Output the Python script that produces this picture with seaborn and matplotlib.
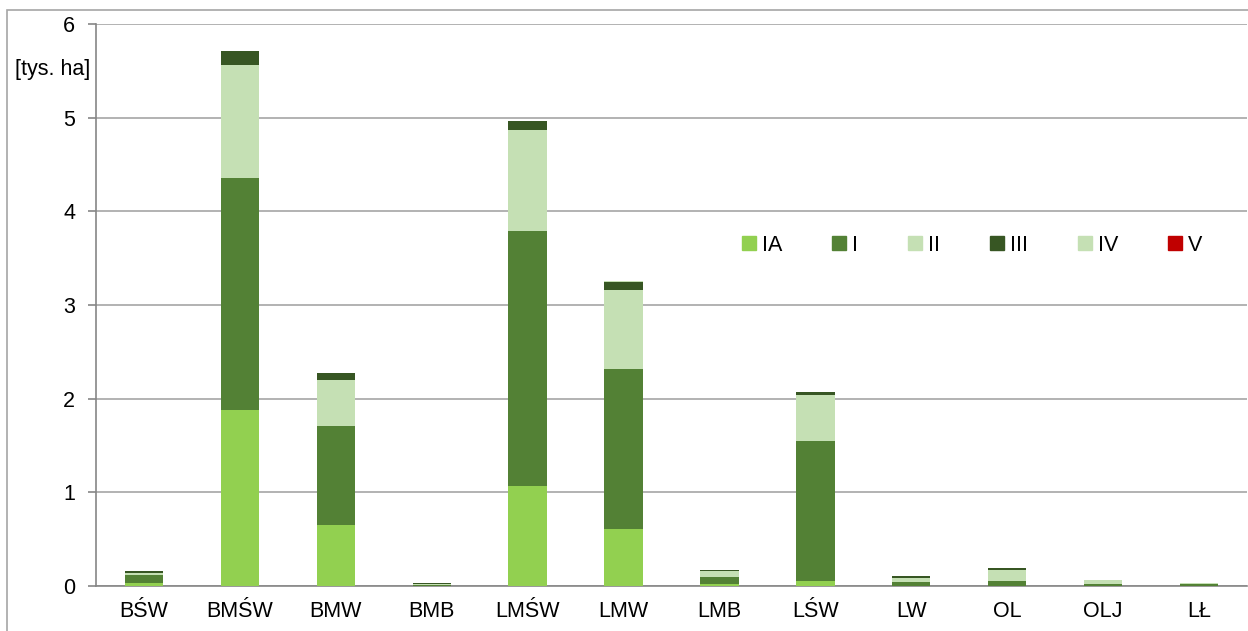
import numpy as np
import pandas as pd
import matplotlib
matplotlib.use("Agg")
import matplotlib.pyplot as plt
import seaborn as sns
from matplotlib.lines import Line2D
from matplotlib.patches import Rectangle

kategorie = ["BŚW", "BMŚW", "BMW", "BMB", "LMŚW", "LMW", "LMB", "LŚW", "LW", "OL", "OLJ", "LŁ"]
IA = [0.035, 1.88, 0.65, 0.005, 1.07, 0.61, 0.02, 0.057, 0.005, 0.005, 0.005, 0.003]
I = [0.08, 2.48, 1.06, 0.01, 2.72, 1.71, 0.078, 1.49, 0.04, 0.052, 0.02, 0.022]
II = [0.025, 1.20, 0.49, 0.01, 1.08, 0.84, 0.06, 0.49, 0.043, 0.11, 0.035, 0.005]
III = [0.015, 0.15, 0.07, 0.005, 0.09, 0.09, 0.018, 0.03, 0.018, 0.025, 0.004, 0.0]
IV = [0.0, 0.0, 0.0, 0.0, 0.0, 0.01, 0.0, 0.0, 0.0, 0.0, 0.0, 0.0]
V = [0.0] * 12

klasy = ["IA", "I", "II", "III", "IV", "V"]
kolory = ["#92D050", "#538135", "#C5E0B4", "#375623", "#C5E0B4", "#C00000"]

df = pd.DataFrame({"kat": kategorie, "IA": IA, "I": I, "II": II, "III": III, "IV": IV, "V": V})
# sumy skumulowane - rysowane od gory do dolu
cum = df[klasy].cumsum(axis=1)

sns.set_style("white", {"text.color": "black", "xtick.color": "black", "ytick.color": "black"})
plt.rcParams["font.family"] = ["Liberation Sans", "DejaVu Sans"]

fig = plt.figure(figsize=(12.48, 6.31), dpi=100)
ax = fig.add_axes([96 / 1248, 1 - 586 / 631, 1151 / 1248, 562 / 631])

for k, c in reversed(list(zip(klasy, kolory))):
    sns.barplot(x=df["kat"], y=cum[k], color=c, width=0.4, saturation=1, ax=ax, linewidth=0, zorder=3)

ax.set_ylim(0, 6)
ax.set_xlim(-0.5, 11.5)
ax.set_yticks(range(7))
ax.yaxis.grid(True, color="#A6A6A6", linewidth=1.2, zorder=0)
ax.set_axisbelow(True)
ax.set_xlabel("")
ax.set_ylabel("")
for s in ["top", "right"]:
    ax.spines[s].set_visible(False)
for s in ["left", "bottom"]:
    ax.spines[s].set_color("#868686")
    ax.spines[s].set_linewidth(1.2)

ax.set_xticks(np.arange(-0.5, 12, 1), minor=True)
ax.tick_params(axis="x", which="major", length=0, labelsize=15.5, pad=11, labelcolor="black")
ax.tick_params(axis="x", which="minor", length=6, color="#868686", width=1.2, direction="out")
ax.tick_params(axis="y", length=6, color="#868686", width=1.2, labelsize=15.5, pad=9, left=True,
               labelcolor="black")

fig.text(15 / 1248, 1 - 70 / 631, "[tys. ha]", fontsize=15.5, va="center", ha="left", color="black")

uchwyty = [Line2D([], [], marker="s", linestyle="", markersize=10, markerfacecolor=c,
                  markeredgecolor=c, label=k) for k, c in zip(klasy, kolory)]
leg = ax.legend(handles=uchwyty, loc="center left", bbox_to_anchor=(0.54, 0.606), ncol=6, frameon=False,
                fontsize=15.5, handletextpad=0.05, columnspacing=2.1, handlelength=1.1)
for t in leg.get_texts():
    t.set_color("black")

fig.patches.append(Rectangle((7 / 1248, -0.05), 1.1, 1 - 10 / 631 + 0.05, transform=fig.transFigure,
                             fill=False, edgecolor="#A6A6A6", linewidth=1.2))

fig.savefig("out.png", dpi=100)
